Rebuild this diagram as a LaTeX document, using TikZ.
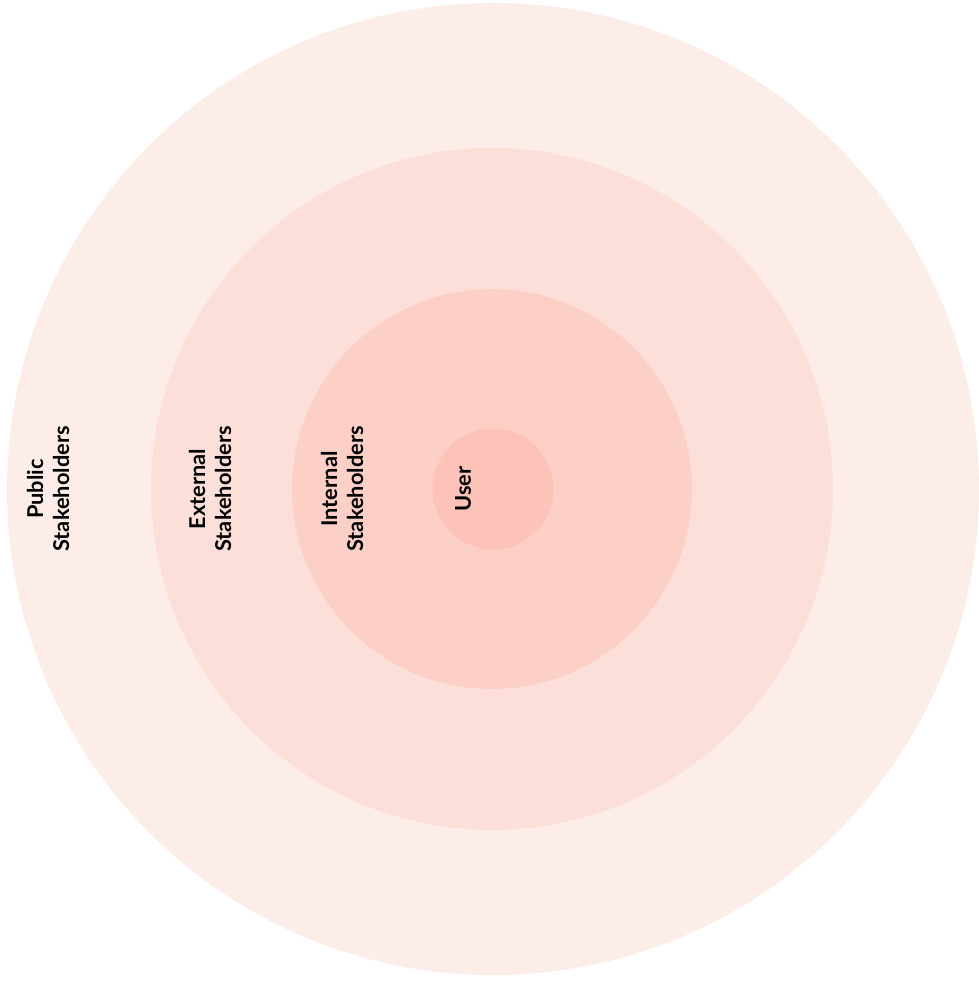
\documentclass[tikz,border=0pt]{standalone}
\usepackage{fontspec}
\setmainfont{Lato}
\definecolor{ringA}{HTML}{FDEDE9}
\definecolor{ringB}{HTML}{FDDFD9}
\definecolor{ringC}{HTML}{FDD0C7}
\definecolor{ringD}{HTML}{FDC3B8}
\begin{document}
\begin{tikzpicture}[x=1pt,y=1pt,
  ring/.style={circle,inner sep=0pt,draw=none},
  lbl/.style={rotate=90,align=center,font=\bfseries\fontsize{21.8}{26}\selectfont,text=black}]
\useasboundingbox (0,0) rectangle (979,983);
\node[ring,fill=ringA,minimum size=972pt] (public) at (493,494) {};
\node[ring,fill=ringB,minimum size=682pt] (external) at (492,494) {};
\node[ring,fill=ringC,minimum size=400pt] (internal) at (492,494) {};
\node[ring,fill=ringD,minimum size=121pt] (user) at (493,494) {};
\node[lbl] (tpublic) at (48,494) {Public\\Stakeholders};
\node[lbl] (texternal) at (210,494) {External\\Stakeholders};
\node[lbl] (tinternal) at (342,494) {Internal\\Stakeholders};
\node[lbl] (tuser) at (463,494) {User};
\end{tikzpicture}
\end{document}
